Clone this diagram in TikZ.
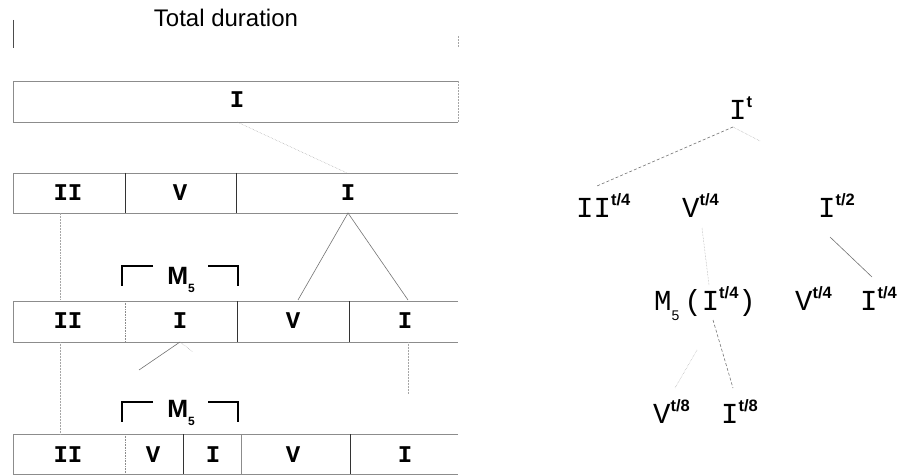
\documentclass[tikz,border=0pt]{standalone}
\usepackage{fontspec}
\setmainfont{Liberation Serif}
\newfontfamily\monof{Liberation Mono}
\newfontfamily\sansf{Liberation Sans}
\newcommand{\supx}[1]{\raisebox{12pt}{\fontsize{16.5}{16.5}\sansf\bfseries #1}}
\newcommand{\subx}[1]{\raisebox{-10pt}{\fontsize{14}{14}\sansf #1}}
\begin{document}
\begin{tikzpicture}[x=1pt,y=-1pt,
  rowtxt/.style={font=\fontsize{24}{24}\monof\bfseries, inner sep=0pt},
  treetxt/.style={font=\fontsize{29}{29}\monof, inner sep=0pt, anchor=base west},
  boxline/.style={draw=black!45, line width=0.6pt},
  divline/.style={draw=black!80, line width=1pt},
  thindiv/.style={draw=black!45, line width=0.6pt, densely dotted},
  brk/.style={draw=black, line width=1.6pt},
  conn/.style={draw=black!55, line width=0.6pt},
  faint/.style={draw=black!35, line width=0.5pt, densely dotted},
  mlab/.style={font=\fontsize{25}{25}\sansf\bfseries, inner sep=0pt}]
\useasboundingbox (0,0) rectangle (898,476);

% Total duration
\node[font=\fontsize{24}{24}\sansf, anchor=base, inner sep=0pt] (tot) at (226,27) {Total duration};
\draw[draw=black!70, line width=0.7pt] (13,20) -- (13,48);
\draw[faint] (458,36) -- (458,48);

% Row 1
\draw[boxline] (458,81) -- (13,81) -- (13,122) -- (458,122);
\draw[faint] (458,81) -- (458,122);
\node[rowtxt] (r1i) at (237,100) {I};

% Row 2
\draw[boxline] (458,173) -- (13,173) -- (13,213) -- (458,213);
\draw[divline] (125,173) -- (125,213);
\draw[divline] (236,173) -- (236,213);
\node[rowtxt] (r2ii) at (68,193) {II};
\node[rowtxt] (r2v) at (180,193) {V};
\node[rowtxt] (r2i) at (348,193) {I};

% Row 3
\draw[boxline] (458,301) -- (13,301) -- (13,342) -- (458,342);
\draw[thindiv] (125,301) -- (125,342);
\draw[divline] (237,301) -- (237,342);
\draw[divline] (349,301) -- (349,342);
\node[rowtxt] (r3ii) at (68,321) {II};
\node[rowtxt] (r3i) at (180,321) {I};
\node[rowtxt] (r3v) at (293,321) {V};
\node[rowtxt] (r3ib) at (405,321) {I};

% Row 4
\draw[boxline] (458,434) -- (13,434) -- (13,474) -- (458,474);
\draw[thindiv] (125,434) -- (125,474);
\draw[divline] (183,434) -- (183,474);
\draw[boxline] (241,434) -- (241,474);
\draw[divline] (350,434) -- (350,474);
\node[rowtxt] (r4ii) at (68,455) {II};
\node[rowtxt] (r4v) at (153,455) {V};
\node[rowtxt] (r4i) at (213,455) {I};
\node[rowtxt] (r4vb) at (293,455) {V};
\node[rowtxt] (r4ib) at (405,455) {I};

% M5 brackets
\draw[brk] (153,266) -- (122,266) -- (122,286);
\draw[brk] (208,266) -- (238,266) -- (238,286);
\node[mlab, anchor=base] (m5a) at (181,284) {M\raisebox{-8pt}{\fontsize{12}{12}\sansf\bfseries 5}};
\draw[brk] (153,402) -- (122,402) -- (122,422);
\draw[brk] (208,402) -- (238,402) -- (238,422);
\node[mlab, anchor=base] (m5b) at (181,417) {M\raisebox{-8pt}{\fontsize{12}{12}\sansf\bfseries 5}};

% connectors left
\coordinate (r1ib) at (237,122);
\coordinate (r2it) at (347,173);
\draw[faint] (r1ib) -- (r2it);
\coordinate (apex) at (348,213);
\coordinate (tl) at (298,300);
\coordinate (tr) at (408,300);
\draw[conn] (tl) -- (apex) -- (tr);
\coordinate (a1) at (60,213);
\coordinate (a2) at (60,300);
\draw[faint] (a1) -- (a2);
\coordinate (b1) at (60,342);
\coordinate (b2) at (60,434);
\draw[faint] (b1) -- (b2);
\coordinate (c1) at (408,342);
\coordinate (c2) at (408,394);
\draw[faint] (c1) -- (c2);
\coordinate (d0) at (180,342);
\coordinate (d1) at (139,370);
\coordinate (d2) at (193,352);
\draw[conn] (d0) -- (d1);
\draw[faint] (d0) -- (d2);

% Tree
\node[treetxt] (t0) at (729,120) {I\supx{t}};
\node[treetxt] (t1) at (576,218) {II\supx{t/4}};
\node[treetxt] (t2) at (682,218) {V\supx{t/4}};
\node[treetxt] (t3) at (818,218) {I\supx{t/2}};
\node[treetxt] (t4) at (654,310) {M\subx{5}\hspace{5pt}(I\supx{t/4})};
\node[treetxt] (t5) at (795,310) {V\supx{t/4}};
\node[treetxt] (t6) at (860,310) {I\supx{t/4}};
\node[treetxt] (t7) at (653,423) {V\supx{t/8}};
\node[treetxt] (t8) at (721,423) {I\supx{t/8}};

\coordinate (e0) at (733,127);
\coordinate (e1) at (597,186);
\coordinate (e2) at (760,141);
\coordinate (e3) at (702,228);
\coordinate (e4) at (709,285);
\coordinate (e5) at (830,237);
\coordinate (e6) at (872,277);
\coordinate (e7) at (713,320);
\coordinate (e8) at (733,388);
\coordinate (e9) at (697,350);
\coordinate (e10) at (675,388);
\draw[conn, densely dashed] (e0) -- (e1);
\draw[faint] (e0) -- (e2);
\draw[faint] (e3) -- (e4);
\draw[conn] (e5) -- (e6);
\draw[conn, densely dashed] (e7) -- (e8);
\draw[faint] (e9) -- (e10);
\end{tikzpicture}
\end{document}
